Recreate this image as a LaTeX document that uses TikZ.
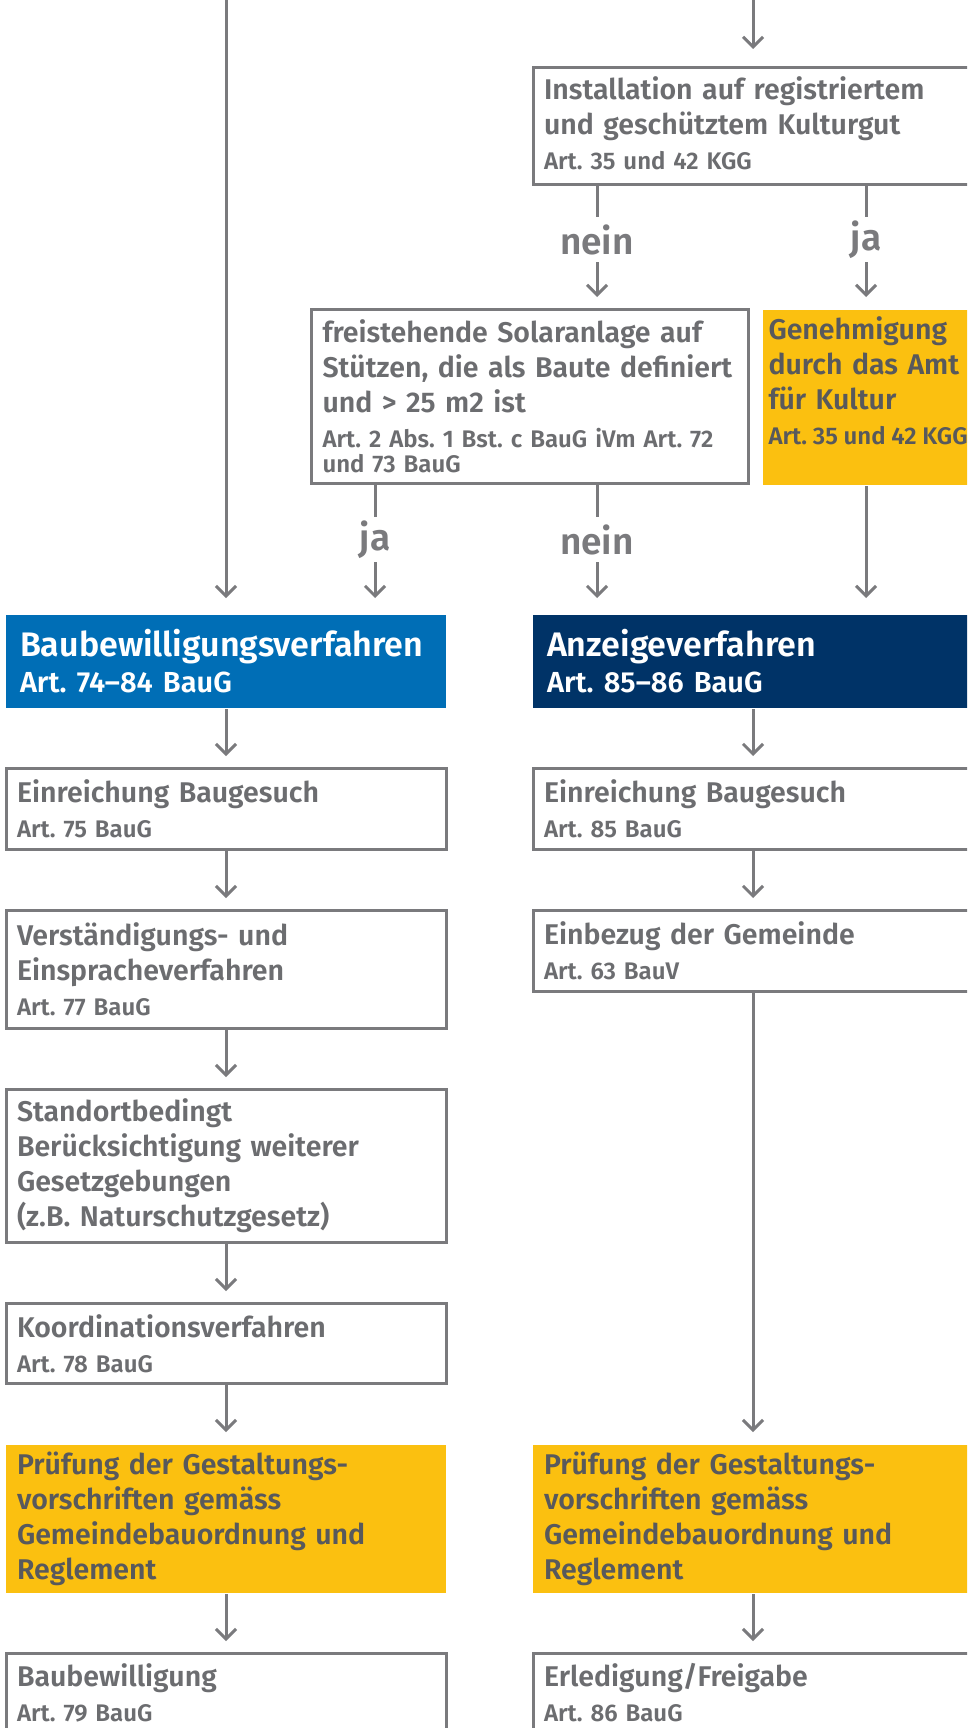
\documentclass[tikz,border=0pt]{standalone}
\usepackage{fontspec}
\setmainfont{Fira Sans}[UprightFont={* SemiBold},BoldFont={* Bold}]
\usetikzlibrary{arrows.meta,positioning}
\definecolor{linegrey}{RGB}{122,122,125}
\definecolor{textgrey}{RGB}{108,109,112}
\definecolor{darkgrey}{RGB}{88,89,92}
\definecolor{amtgelb}{RGB}{251,192,16}
\definecolor{baublau}{RGB}{0,110,182}
\definecolor{anzeigeblau}{RGB}{0,51,103}
\newcommand{\hauptfont}{\fontsize{28.5pt}{35pt}\selectfont}
\newcommand{\artfont}{\fontsize{24pt}{25pt}\selectfont\spaceskip=.33em\xspaceskip=.33em\frenchspacing}
\newcommand{\titelfont}{\fontsize{34pt}{36pt}\selectfont}
\newcommand{\titelart}{\fontsize{29pt}{36pt}\selectfont\spaceskip=.35em\xspaceskip=.35em\frenchspacing}
\newcommand{\antwortfont}{\fontsize{37pt}{40pt}\selectfont}
\hyphenpenalty=10000
\tikzset{
    %Define standard arrow tip
    >={Straight Barb[length=10pt,width=20pt]},
    %Define style for boxes
    box/.style={
           rectangle,
           draw=linegrey, line width=3pt,
           fill=white,
           text=textgrey,
           text width=418pt,
           inner xsep=11pt,
           inner ysep=0pt,
           align=left,
           font=\hauptfont},
    gelbbox/.style={
           box,
           draw=none,
           fill=amtgelb,
           text=darkgrey},
    titelbox/.style={
           box,
           draw=none,
           text=white,
           text width=412pt,
           inner xsep=14pt,
           font=\titelfont},
    antwort/.style={
           text=linegrey,
           inner sep=0pt,
           minimum height=45pt,
           font=\antwortfont},
    % Define line and arrow style
    verbindung/.style={
           draw=linegrey,
           line width=3pt},
    arr/.style={
           ->,
           draw=linegrey,
           line width=3pt,
           shorten >=11pt}
}

\begin{document}
\begin{tikzpicture}[x=1pt,y=1pt,node distance=58pt]
  \path[use as bounding box, fill=white] (0,0) rectangle (967,-1728);
  \clip (0,0) rectangle (967,-1728);

  % Kulturgut
  \coordinate (start-kultur) at (753,0);
  \node[box, minimum height=117pt, anchor=north] (kulturgut) at (753,-66)
    {Installation auf registriertem\\und geschütztem Kulturgut\\{\artfont Art. 35 und 42 KGG}\rule[-6pt]{0pt}{0pt}};
  \node[antwort] (kultur-nein) at (597,-239.5) {nein};
  \node[antwort] (kultur-ja) at (866,-239.5) {ja};

  \node[box, text width=415pt, minimum height=174pt, anchor=north west] (solar) at (310,-308)
    {freistehende Solaranlage auf\\Stützen, die als Baute definiert\\und > 25 m2 ist\\{\artfont Art. 2 Abs. 1 Bst. c BauG iVm Art. 72}\\[-10pt]{\artfont und 73 BauG}};
  \node[gelbbox, text width=230pt, inner xsep=6pt, minimum height=175pt, anchor=north west] (kultur-amt) at (761,-308)
    {Genehmigung\\durch das Amt\\für Kultur\\{\artfont\spaceskip=.24em Art. 35 und 42 KGG}\rule[-33pt]{0pt}{0pt}};
  \node[antwort] (solar-ja) at (375,-539.5) {ja};
  \node[antwort] (solar-nein) at (597,-539.5) {nein};

  % Baubewilligungsverfahren
  \coordinate (start-bau) at (226,0);
  \node[titelbox, fill=baublau, minimum height=93pt, anchor=north] (bau-verf) at (226,-613)
    {Baubewilligungsverfahren\\{\titelart Art. 74--84 BauG}};
  \node[box, minimum height=81pt, below=of bau-verf] (bau-ein)
    {Einreichung Baugesuch\\{\artfont Art. 75 BauG}};
  \node[box, minimum height=118pt, below=of bau-ein] (bau-verst)
    {Verständigungs- und\\Einspracheverfahren\\{\artfont Art. 77 BauG}};
  \node[box, minimum height=153pt, below=of bau-verst] (bau-standort)
    {Standortbedingt\\Berücksichtigung weiterer\\Gesetzgebungen\\(z.B. Naturschutzgesetz)};
  \node[box, minimum height=80pt, below=of bau-standort] (bau-koord)
    {Koordinationsverfahren\\{\artfont Art. 78 BauG}};
  \node[gelbbox, minimum height=148pt, below=of bau-koord] (bau-pruef)
    {Prüfung der Gestaltungs-\\vorschriften gemäss\\Gemeindebauordnung und\\Reglement};
  \node[box, minimum height=78pt, below=of bau-pruef] (bau-bew)
    {Baubewilligung\\{\artfont Art. 79 BauG}};

  % Anzeigeverfahren
  \node[titelbox, fill=anzeigeblau, minimum height=93pt, anchor=north] (anz-verf) at (753,-613)
    {Anzeigeverfahren\\{\titelart Art. 85--86 BauG}};
  \node[box, minimum height=81pt, below=of anz-verf] (anz-ein)
    {Einreichung Baugesuch\\{\artfont Art. 85 BauG}};
  \node[box, minimum height=81pt, below=of anz-ein] (anz-gemeinde)
    {Einbezug der Gemeinde\\{\artfont Art. 63 BauV}};
  \node[gelbbox, minimum height=148pt, anchor=north] (anz-pruef) at (anz-verf |- bau-pruef.north)
    {Prüfung der Gestaltungs-\\vorschriften gemäss\\Gemeindebauordnung und\\Reglement};
  \node[box, minimum height=78pt, below=of anz-pruef] (anz-erl)
    {Erledigung/Freigabe\\{\artfont Art. 86 BauG}};

  % Verbindungen
  \draw [arr, shorten >=17pt] (start-kultur) -- (kulturgut);
  \draw [verbindung] (kulturgut.south -| kultur-nein) -- (kultur-nein);
  \draw [arr] (kultur-nein) -- (solar.north -| kultur-nein);
  \draw [verbindung] (kulturgut.south -| kultur-ja) -- (kultur-ja);
  \draw [arr] (kultur-ja) -- (kultur-amt.north -| kultur-ja);

  \draw [verbindung] (solar.south -| solar-ja) -- (solar-ja);
  \draw [arr, shorten >=15pt] (solar-ja) -- (bau-verf.north -| solar-ja);
  \draw [verbindung] (solar.south -| solar-nein) -- (solar-nein);
  \draw [arr, shorten >=15pt] (solar-nein) -- (anz-verf.north -| solar-nein);
  \draw [arr, shorten >=15pt] (kultur-amt.south -| kultur-ja) -- (anz-verf.north -| kultur-ja);
  \draw [arr, shorten >=15pt] (start-bau) -- (bau-verf);

  \draw [arr] (bau-verf) -- (bau-ein);
  \draw [arr] (bau-ein) -- (bau-verst);
  \draw [arr] (bau-verst) -- (bau-standort);
  \draw [arr] (bau-standort) -- (bau-koord);
  \draw [arr] (bau-koord) -- (bau-pruef);
  \draw [arr] (bau-pruef) -- (bau-bew);

  \draw [arr] (anz-verf) -- (anz-ein);
  \draw [arr] (anz-ein) -- (anz-gemeinde);
  \draw [arr] (anz-gemeinde) -- (anz-pruef);
  \draw [arr] (anz-pruef) -- (anz-erl);
\end{tikzpicture}
\end{document}
